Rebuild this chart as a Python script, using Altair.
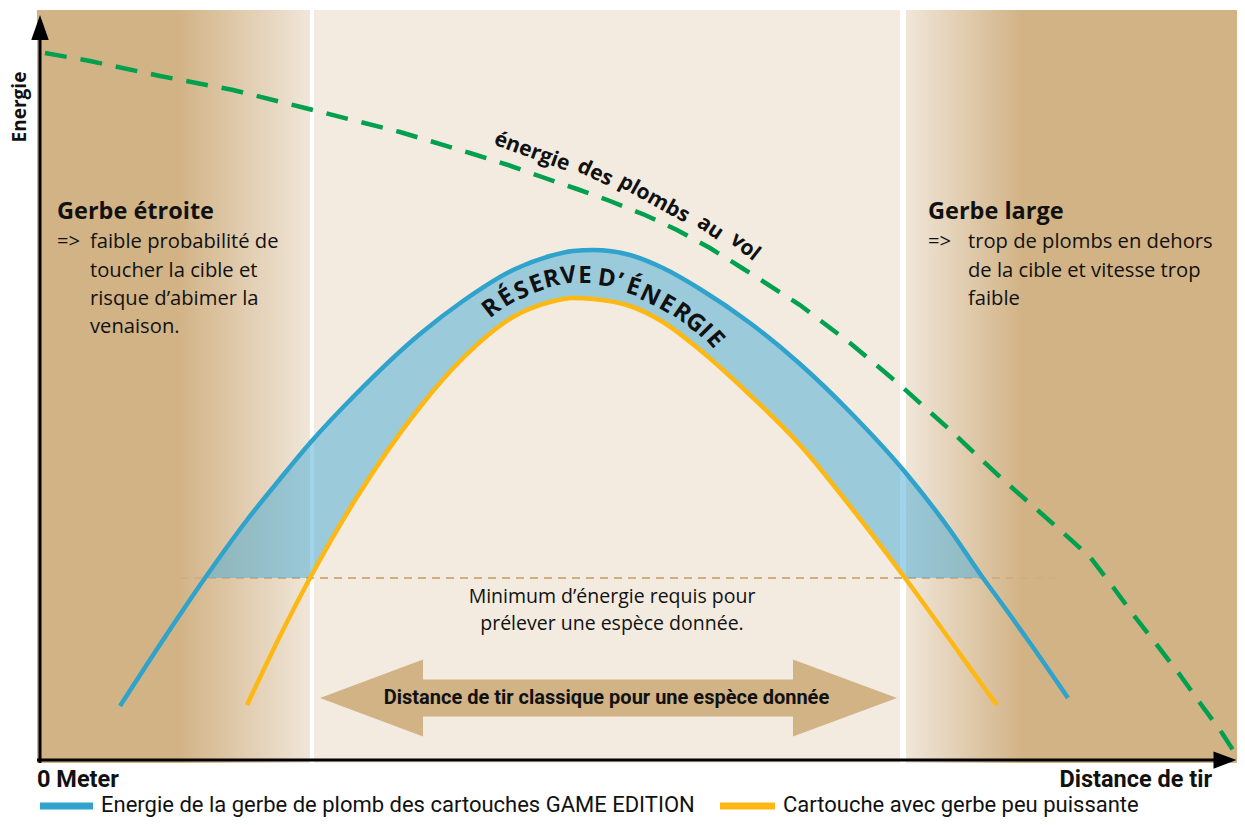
import altair as alt
import pandas as pd

# ---------------- coordinate frame (distance units right of the energy axis, energy units above the distance axis)
X_MIN, X_MAX = -32, 1197
Y_MIN, Y_MAX = -57, 752
MIN_ENERGY = 182

# ---------------- curves (common distance grid)
grid_x = [80, 125, 165, 207, 240, 270, 317, 380, 423, 473, 510, 533, 553, 590, 623,
          660, 710, 760, 810, 865, 910, 943, 957, 990, 1028]
game_edition = [54, 123, 182, 240, 281, 317, 367, 426, 459, 490, 504, 509, 510, 505, 492,
                471, 437, 396, 348, 288, 230, 182, 163, 117, 62]
weak_load = [None, None, None, 55, 124, 182, 263, 353, 402, 443, 458, 462, 461, 454, 438,
             410, 365, 315, 254, 182, 120, 74, 55, None, None]

# pellet energy in flight (green dashed)
flight_x = [5, 50, 120, 193, 265, 360, 430, 468, 502, 537, 570, 605, 637, 670, 702, 760,
            810, 860, 910, 960, 1020, 1050, 1073, 1095, 1117, 1140, 1160, 1182, 1193]
flight_e = [707, 699, 684, 670, 652, 628, 607, 595, 583, 571, 559, 545, 530, 512, 492, 455,
            417, 375, 330, 283, 230, 203, 173, 143, 115, 85, 57, 27, 10]

# background zones
zone_x = [-3, 274, 866]
zone_x2 = [270, 860, 1197]
zone_top = 750
zone_bottom = -3

# minimum energy line extent
min_line_x = [140, 1015]

# double arrow (classic shooting distance)
arrow_part = ["left", "left", "body", "body", "right", "right"]
arrow_x = [280, 383, 382, 754, 753, 857]
arrow_top = [62, 100.5, 80.5, 80.5, 100.5, 62]
arrow_bot = [62, 23.5, 43.5, 43.5, 23.5, 62]

TAN = "#D2B386"
PALE = "#F0E6D9"
MID = "#F3EBE0"
BLUE = "#2FA3CB"
YELLOW = "#FDB813"
GREEN = "#00A04F"

xs = alt.Scale(domain=[X_MIN, X_MAX], nice=False, zero=False)
ys = alt.Scale(domain=[Y_MIN, Y_MAX], nice=False, zero=False)


def X(f):
    return alt.X(f, type="quantitative", scale=xs, axis=None)


def Y(f):
    return alt.Y(f, type="quantitative", scale=ys, axis=None)


layers = []

# --- background bands
def grad(stops):
    return alt.LinearGradient(gradient="linear",
                              stops=[alt.GradientStop(color=c, offset=o) for o, c in stops],
                              x1=0, x2=1, y1=0, y2=0)

zone_colors = [grad([(0, TAN), (0.52, TAN), (1, PALE)]), MID, grad([(0, PALE), (0.35, TAN), (1, TAN)])]
for i in range(3):
    d = pd.DataFrame({"x": [zone_x[i]], "x2": [zone_x2[i]], "y": [zone_bottom], "y2": [zone_top]})
    layers.append(alt.Chart(d).mark_rect(color=zone_colors[i]).encode(
        x=X("x"), x2="x2", y=Y("y"), y2="y2"))

# --- minimum energy dashed line
dmin = pd.DataFrame({"x": min_line_x, "y": [MIN_ENERGY, MIN_ENERGY]})
layers.append(alt.Chart(dmin).mark_line(color="#D0AE80", strokeWidth=2, strokeDash=[8, 6]).encode(
    x=X("x"), y=Y("y")))

# --- energy reserve fill (pieces: left of yellow crossing, between curves, right of yellow crossing)
curves = pd.DataFrame({"x": grid_x, "blue": game_edition, "yellow": weak_load})
peak_x = curves.loc[curves["blue"].idxmax(), "x"]
above = curves[curves["blue"] >= MIN_ENERGY]
mid = above[above["yellow"].notna() & (above["yellow"] >= MIN_ENERGY)].copy()
mid["low"] = mid["yellow"]
mid["piece"] = "mid"
side = above[above["yellow"].isna() | (above["yellow"] <= MIN_ENERGY)].copy()
side["low"] = MIN_ENERGY
side["piece"] = ["left" if v < peak_x else "right" for v in side["x"]]
fill = pd.concat([side, mid])
layers.append(alt.Chart(fill).mark_area(color="#4AADD6", opacity=0.52, interpolate="monotone").encode(
    x=X("x"), y=Y("blue"), y2="low", detail="piece:N"))

# --- curves
yl = curves.dropna(subset=["yellow"])
layers.append(alt.Chart(yl).mark_line(color=YELLOW, strokeWidth=4.5, interpolate="monotone").encode(
    x=X("x"), y=Y("yellow")))
layers.append(alt.Chart(curves).mark_line(color=BLUE, strokeWidth=4.5, interpolate="monotone").encode(
    x=X("x"), y=Y("blue")))

dfl = pd.DataFrame({"x": flight_x, "y": flight_e})
layers.append(alt.Chart(dfl).mark_line(color=GREEN, strokeWidth=4.5, strokeDash=[22, 14]).encode(
    x=X("x"), y=Y("y")))

# --- double arrow
darr = pd.DataFrame({"part": arrow_part, "x": arrow_x, "top": arrow_top, "bot": arrow_bot})
layers.append(alt.Chart(darr).mark_area(color=TAN).encode(
    x=X("x"), y=Y("top"), y2="bot", detail="part:N"))

# --- axes
daxes = pd.DataFrame({"x": [0, -3], "x2": [0, 1182], "y": [-3, 0], "y2": [728, 0]})
layers.append(alt.Chart(daxes).mark_rule(color="black", strokeWidth=3).encode(
    x=X("x"), x2="x2", y=Y("y"), y2="y2"))
dheads = pd.DataFrame({"x": [0], "y": [732.5]})
layers.append(alt.Chart(dheads).mark_point(shape="M0,-1L0.7,1L-0.7,1Z", size=625, filled=True,
                                           color="black", opacity=1, strokeWidth=0).encode(
    x=X("x"), y=Y("y")))
dheads2 = pd.DataFrame({"x": [1185], "y": [0]})
layers.append(alt.Chart(dheads2).mark_point(shape="M1,0L-1,-0.75L-1,0.75Z", size=529, filled=True,
                                            color="black", opacity=1, strokeWidth=0).encode(
    x=X("x"), y=Y("y")))

# --- legend swatches
dleg = pd.DataFrame({"x": [0, 680], "x2": [53, 735], "y": [-46, -46], "c": [BLUE, YELLOW]})
layers.append(alt.Chart(dleg).mark_rule(strokeWidth=7).encode(
    x=X("x"), x2="x2", y=Y("y"), color=alt.Color("c:N", scale=None)))

# --- texts
SANS = "Open Sans"
COND = "Roboto"


def txt(rows, size, weight="normal", font=SANS, align="left", angle=None, color="#111111"):
    d = pd.DataFrame(rows, columns=["x", "y", "t"] + (["a"] if angle == "field" else []))
    kw = dict(fontSize=size, fontWeight=weight, font=font, align=align, baseline="middle", color=color)
    if isinstance(angle, (int, float)):
        kw["angle"] = angle
    enc = dict(x=X("x"), y=Y("y"), text="t:N")
    if angle == "field":
        enc["angle"] = alt.Angle("a:Q", scale=None)
    return alt.Chart(d).mark_text(**kw).encode(**enc)


layers.append(txt([[17, 548, "Gerbe étroite"], [888, 548, "Gerbe large"]], 23.5, "bold"))
layers.append(txt([
    [17, 518, "=>"], [50, 518, "faible probabilité de"], [50, 489.5, "toucher la cible et"],
    [50, 461.5, "risque d’abimer la"], [50, 433, "venaison."],
    [888, 518, "=>"], [928, 518, "trop de plombs en dehors"], [928, 489.5, "de la cible et vitesse trop"],
    [928, 461.5, "faible"]], 20.2))
layers.append(txt([[572, 163, "Minimum d’énergie requis pour"], [572, 136, "prélever une espèce donnée."]],
                  19.5, align="center"))
layers.append(txt([[566.5, 62, "Distance de tir classique pour une espèce donnée"]], 20, "bold", COND,
                  align="center"))
layers.append(txt([[-3, -20, "0 Meter"]], 23.5, "bold", COND))
layers.append(txt([[1172, -20, "Distance de tir"]], 23.5, "bold", COND, align="right"))
layers.append(txt([[-20, 653, "Energie"]], 19, "bold", align="center", angle=270))
layers.append(txt([[61, -45, "Energie de la gerbe de plomb des cartouches GAME EDITION"],
                   [743, -45, "Cartouche avec gerbe peu puissante"]], 22, "normal", COND))

# words along the pellet-energy curve
flight_words = ["énergie", "des", "plombs", "au", "vol"]
flight_wx = [492, 555, 614, 670, 705]
flight_wy = [608, 587, 561, 532, 513]
flight_wa = [20, 25, 29, 34, 38]
layers.append(txt([[a, b, c, d] for a, b, c, d in zip(flight_wx, flight_wy, flight_words, flight_wa)],
                  21, "bold", align="center", angle="field"))

# letters along the energy reserve band
res_chars = list("RÉSERVE") + ["D", "’", "É", "N", "E", "R", "G", "I", "E"]
res_x = [451.7, 466.7, 481.7, 496.7, 511.7, 528.3, 545, 566.7, 580, 593.3, 610, 626.7, 641.7, 655, 665, 675]
res_y = [452, 462, 469, 475.5, 480.5, 484, 484, 481, 477.5, 472.5, 464, 455.5, 447, 437, 429, 420.5]
res_a = [322, 328, 335, 340, 347, 353, 0, 8, 12, 18, 25, 30, 35, 40, 45, 48]
layers.append(txt([[a, b, c, d] for a, b, c, d in zip(res_x, res_y, res_chars, res_a)],
                  24, "bold", align="center", angle="field"))

chart = alt.layer(*layers).properties(
    width=1229, height=809, autosize=alt.AutoSizeParams(type="none"), padding=0, background="white"
).configure_view(strokeWidth=0)

chart.save("out.html", embed_options={"renderer": "svg", "actions": False})
